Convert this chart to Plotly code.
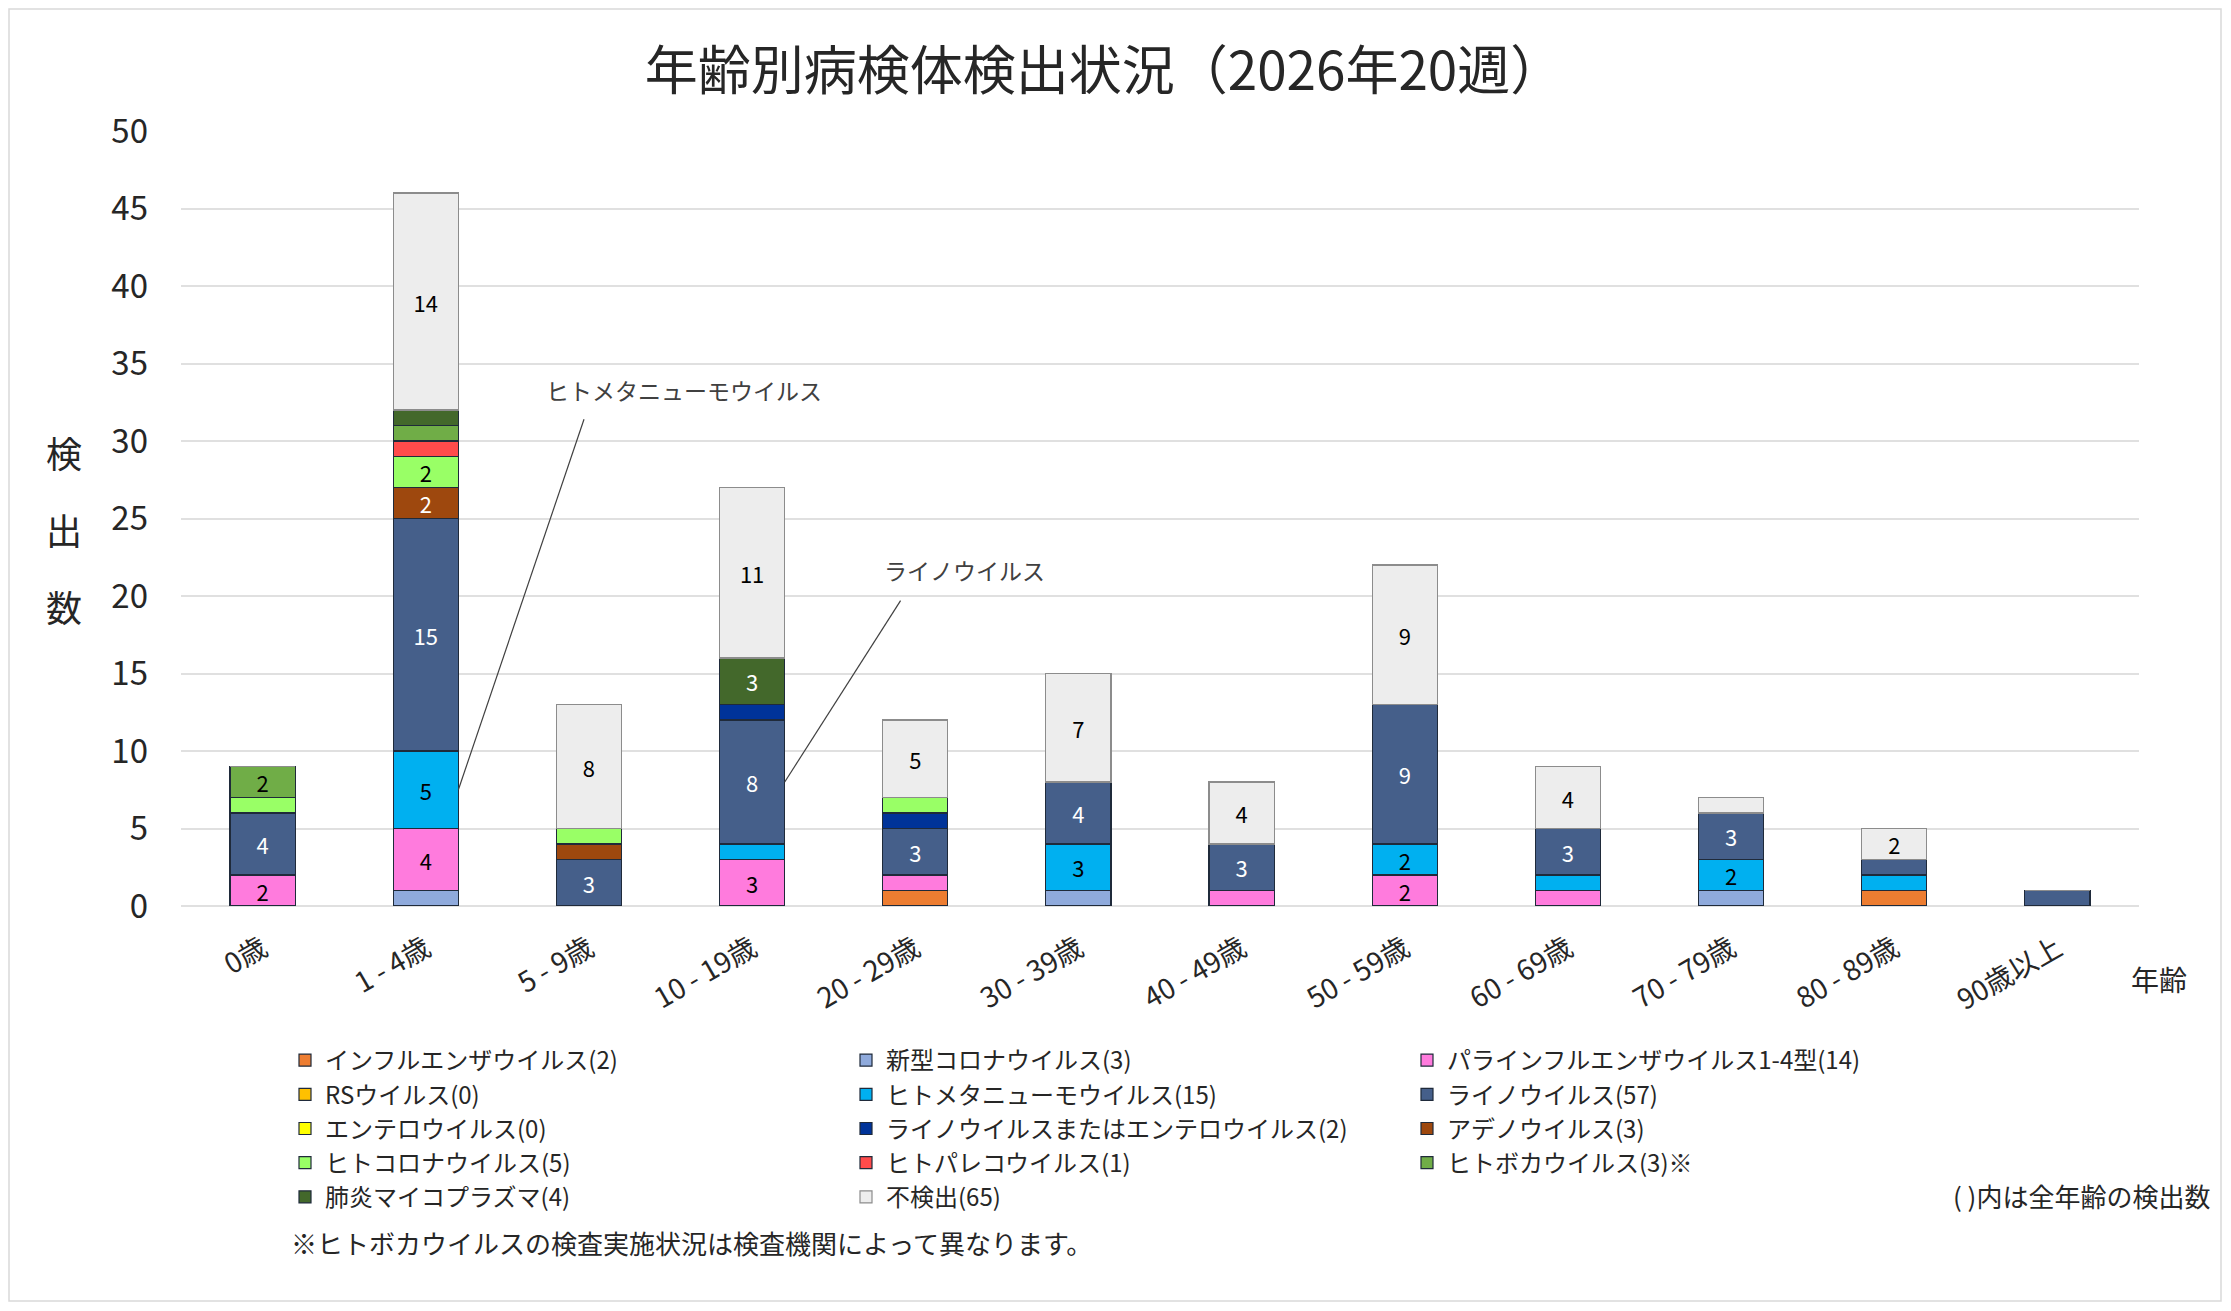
import plotly.graph_objects as go

# age groups on the x axis
ages = ["0歳", "1 - 4歳", "5 - 9歳", "10 - 19歳", "20 - 29歳", "30 - 39歳",
        "40 - 49歳", "50 - 59歳", "60 - 69歳", "70 - 79歳", "80 - 89歳", "90歳以上"]

# detections per age group (stack order bottom -> top)
flu       = [0, 0, 0, 0, 1, 0, 0, 0, 0, 0, 1, 0]
covid     = [0, 1, 0, 0, 0, 1, 0, 0, 0, 1, 0, 0]
para      = [2, 4, 0, 3, 1, 0, 1, 2, 1, 0, 0, 0]
rsv       = [0, 0, 0, 0, 0, 0, 0, 0, 0, 0, 0, 0]
hmpv      = [0, 5, 0, 1, 0, 3, 0, 2, 1, 2, 1, 0]
rhino     = [4, 15, 3, 8, 3, 4, 3, 9, 3, 3, 1, 1]
entero    = [0, 0, 0, 0, 0, 0, 0, 0, 0, 0, 0, 0]
rhino_ent = [0, 0, 0, 1, 1, 0, 0, 0, 0, 0, 0, 0]
adeno     = [0, 2, 1, 0, 0, 0, 0, 0, 0, 0, 0, 0]
hcov      = [1, 2, 1, 0, 1, 0, 0, 0, 0, 0, 0, 0]
parecho   = [0, 1, 0, 0, 0, 0, 0, 0, 0, 0, 0, 0]
boca      = [2, 1, 0, 0, 0, 0, 0, 0, 0, 0, 0, 0]
myco      = [0, 1, 0, 3, 0, 0, 0, 0, 0, 0, 0, 0]
negative  = [0, 14, 8, 11, 5, 7, 4, 9, 4, 1, 2, 0]

# (label, values, fill colour, label colour, legend suffix)
series = [
    ("インフルエンザウイルス", flu, "#ED7D31", "black", ""),
    ("新型コロナウイルス", covid, "#8FAADC", "black", ""),
    ("パラインフルエンザウイルス1-4型", para, "#FF7BDD", "black", ""),
    ("RSウイルス", rsv, "#FFC000", "black", ""),
    ("ヒトメタニューモウイルス", hmpv, "#00B0F0", "black", ""),
    ("ライノウイルス", rhino, "#455F8A", "white", ""),
    ("エンテロウイルス", entero, "#FFFF00", "black", ""),
    ("ライノウイルスまたはエンテロウイルス", rhino_ent, "#003399", "white", ""),
    ("アデノウイルス", adeno, "#9E480E", "white", ""),
    ("ヒトコロナウイルス", hcov, "#99FF66", "black", ""),
    ("ヒトパレコウイルス", parecho, "#FF4B4B", "black", ""),
    ("ヒトボカウイルス", boca, "#70AD47", "black", "※"),
    ("肺炎マイコプラズマ", myco, "#43682B", "white", ""),
    ("不検出", negative, "#EDEDED", "black", ""),
]

FONT = "Noto Sans CJK JP"
OFF = 8  # page body margin
W, H = 2231 - 2 * OFF, 1311 - 2 * OFF
# plot area in page pixels
PX0, PX1, PY0, PY1 = 181, 2139, 131, 906
L, T = PX0 - OFF, PY0 - OFF
R, B = W - (PX1 - OFF), H - (PY1 - OFF)
PW, PH = PX1 - PX0, PY1 - PY0


def px(x):
    return (x - PX0) / PW


def py(y):
    return (PY1 - y) / PH


fig = go.Figure()
for name, vals, color, tcolor, suffix in series:
    fig.add_trace(go.Bar(
        x=ages,
        y=vals,
        name=f"{name}({sum(vals)}){suffix}",
        marker=dict(color=color,
                    line=dict(color="#8C8C8C" if name == "不検出" else "#1F2A3A", width=1.2)),
        text=[str(v) if v >= 2 else "" for v in vals],
        textposition="inside",
        insidetextanchor="middle",
        textangle=0,
        textfont=dict(family=FONT, size=22, color=tcolor),
        hoverinfo="name+y",
    ))

# callout positions taken from the stacked data
def seg_mid(i, series_idx):
    below = sum(series[k][1][i] for k in range(series_idx))
    return below + series[series_idx][1][i] / 2

callouts = [
    (1, 4, "ヒトメタニューモウイルス", 1.97, 31.4, 2.58, 33.3),
    (3, 5, "ライノウイルス", 3.91, 19.7, 4.30, 21.65),
]
for i, s_idx, label, lx, ly, tx, ty in callouts:
    fig.add_shape(type="line", xref="x", yref="y",
                  x0=i + 0.2, y0=seg_mid(i, s_idx), x1=lx, y1=ly,
                  line=dict(color="#404040", width=1.2))
    fig.add_annotation(x=tx, y=ty, xref="x", yref="y", text=label, showarrow=False,
                       font=dict(family=FONT, size=23, color="#404040"))

# vertical axis title
for k, ch in enumerate("検出数"):
    fig.add_annotation(x=px(64), y=py(452 + 77 * k), xref="paper", yref="paper",
                       xanchor="center", yanchor="middle",
                       text=ch, showarrow=False,
                       font=dict(family=FONT, size=36, color="#262626"))

fig.add_annotation(x=px(2159), y=py(979), xref="paper", yref="paper", text="年齢",
                   xanchor="center", yanchor="middle",
                   showarrow=False, font=dict(family=FONT, size=28, color="#262626"))
fig.add_annotation(x=px(289), y=py(1242), xref="paper", yref="paper",
                   xanchor="left", yanchor="middle",
                   text="※ヒトボカウイルスの検査実施状況は検査機関によって異なります。",
                   showarrow=False, font=dict(family=FONT, size=26, color="#262626"))
fig.add_annotation(x=px(2212), y=py(1195), xref="paper", yref="paper",
                   xanchor="right", yanchor="middle",
                   text="( )内は全年齢の検出数",
                   showarrow=False, font=dict(family=FONT, size=26, color="#262626"))

# outer chart border
fig.add_shape(type="rect", xref="paper", yref="paper",
              x0=px(OFF + 1), x1=px(OFF + W - 2), y0=py(OFF + 1), y1=py(OFF + H - 2),
              line=dict(color="#D9D9D9", width=1.5))

fig.update_layout(
    width=W, height=H,
    barmode="stack",
    bargap=0.6,
    uniformtext=dict(minsize=22, mode="show"),
    plot_bgcolor="white",
    paper_bgcolor="white",
    font=dict(family=FONT, color="#262626"),
    margin=dict(l=L, r=R, t=T, b=B),
    title=dict(text="年齢別病検体検出状況（2026年20週）",
               x=(1104 - OFF) / W, xanchor="center", y=1 - (71 - OFF) / H, yanchor="middle",
               font=dict(family=FONT, size=53, color="#262626")),
    xaxis=dict(tickangle=-30, tickfont=dict(family=FONT, size=28, color="#262626"),
               showgrid=False, showline=False, ticks="", ticklabelstandoff=20),
    yaxis=dict(range=[0, 50], dtick=5, tickfont=dict(family=FONT, size=33, color="#262626"),
               showgrid=True, gridcolor="#E0E0E0", gridwidth=1.5, zeroline=True,
               zerolinecolor="#E0E0E0", zerolinewidth=1.5, ticklabelstandoff=32),
    legend=dict(orientation="h", x=px(285), xanchor="left", y=py(1038), yanchor="top",
                entrywidth=516, traceorder="normal",
                font=dict(family=FONT, size=24, color="#262626")),
    showlegend=True,
)

fig.write_html("out.html")
